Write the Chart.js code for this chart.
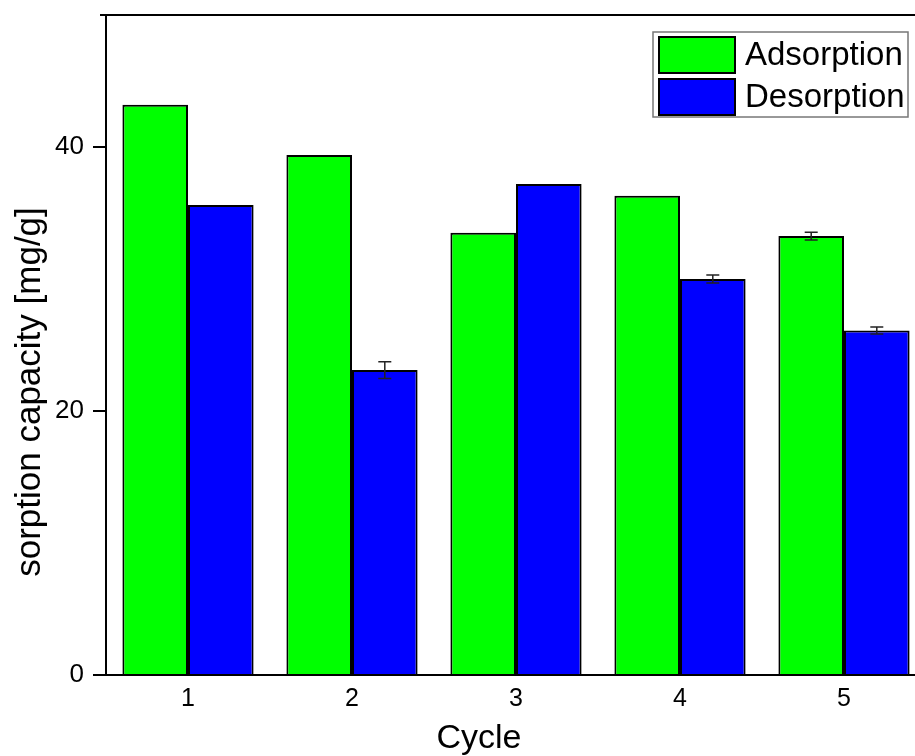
<!DOCTYPE html>
<html><head><meta charset="utf-8">
<script src="https://cdn.jsdelivr.net/npm/chart.js@4/dist/chart.umd.min.js"></script>
<style>
html,body{margin:0;padding:0;background:#fff;overflow:hidden;}
#wrap{width:915px;height:756px;overflow:hidden;position:relative;background:#fff;}
#box{width:935px;height:756px;position:absolute;left:0;top:0;}
</style></head><body>
<div id="wrap"><div id="box"><canvas id="c"></canvas></div></div>
<script>
const cycles = ['1', '2', '3', '4', '5'];
const adsorption = [43.2, 39.4, 33.5, 36.3, 33.25];
const desorption = [35.6, 23.1, 37.2, 30.0, 26.1];
const adsorptionErr = [0, 0, 0, 0, 0.3];
const desorptionErr = [0, 0.63, 0, 0.3, 0.27];
const yTicks = [0, 20, 40];
const seriesNames = ['Adsorption', 'Desorption'];
const yTitle = 'sorption capacity [mg/g]';
const xTitle = 'Cycle';

const FONT = '"Liberation Sans", Arial, sans-serif';
const errs = [adsorptionErr, desorptionErr];

const extras = {
  id: 'extras',
  afterDatasetsDraw(chart) {
    const ctx = chart.ctx;
    const y = chart.scales.y;
    ctx.save();
    ctx.strokeStyle = '#222';
    ctx.lineWidth = 1.5;
    chart.data.datasets.forEach((ds, di) => {
      const meta = chart.getDatasetMeta(di);
      meta.data.forEach((bar, i) => {
        const e = errs[di][i];
        if (!e) return;
        const v = ds.data[i];
        const yt = y.getPixelForValue(v + e);
        const yb = y.getPixelForValue(v - e);
        ctx.beginPath();
        ctx.moveTo(bar.x, yt); ctx.lineTo(bar.x, yb);
        ctx.moveTo(bar.x - 6.5, yt); ctx.lineTo(bar.x + 6.5, yt);
        ctx.moveTo(bar.x - 6.5, yb); ctx.lineTo(bar.x + 6.5, yb);
        ctx.stroke();
      });
    });
    ctx.restore();
  },
  afterDraw(chart) {
    const ctx = chart.ctx;
    const a = chart.chartArea;
    ctx.save();
    // top frame line
    ctx.strokeStyle = '#000';
    ctx.lineWidth = 2;
    ctx.beginPath();
    ctx.moveTo(a.left - 6, a.top);
    ctx.lineTo(a.right, a.top);
    ctx.stroke();
    // legend
    const lx = a.right - 273, ly = a.top + 17, lw = 255, lh = 85;
    ctx.fillStyle = '#fff';
    ctx.fillRect(lx, ly, lw, lh);
    ctx.strokeStyle = '#777';
    ctx.lineWidth = 1.5;
    ctx.strokeRect(lx, ly, lw, lh);
    chart.data.datasets.forEach((ds, i) => {
      const sy = ly + 5 + i * 42;
      ctx.fillStyle = ds.backgroundColor;
      ctx.fillRect(lx + 6, sy, 76, 36);
      ctx.strokeStyle = '#000';
      ctx.lineWidth = 2;
      ctx.strokeRect(lx + 6, sy, 76, 36);
      ctx.fillStyle = '#000';
      ctx.font = '33px ' + FONT;
      ctx.textAlign = 'left';
      ctx.textBaseline = 'middle';
      ctx.fillText(ds.label, lx + 92, sy + 19);
    });
    // axis titles
    ctx.fillStyle = '#000';
    ctx.font = '34px ' + FONT;
    ctx.textAlign = 'center';
    ctx.textBaseline = 'alphabetic';
    ctx.fillText(xTitle, 479, 748);
    ctx.font = '35px ' + FONT;
    ctx.translate(40, 392);
    ctx.rotate(-Math.PI / 2);
    ctx.fillText(yTitle, 0, 0);
    ctx.restore();
  }
};

new Chart(document.getElementById('c'), {
  type: 'bar',
  data: {
    labels: cycles,
    datasets: [
      { label: seriesNames[0], data: adsorption, backgroundColor: '#00FF00', borderColor: '#000', borderWidth: 2, categoryPercentage: 0.8, barPercentage: 1.0 },
      { label: seriesNames[1], data: desorption, backgroundColor: '#0000FF', borderColor: '#000', borderWidth: 2, categoryPercentage: 0.8, barPercentage: 1.0 }
    ]
  },
  options: {
    responsive: true,
    maintainAspectRatio: false,
    animation: false,
    devicePixelRatio: 1,
    layout: { padding: { left: 0, top: 15, right: 9, bottom: 0 } },
    plugins: { legend: { display: false }, tooltip: { enabled: false } },
    scales: {
      x: {
        type: 'category',
        offset: true,
        grid: { display: false, drawTicks: false },
        border: { display: true, color: '#000', width: 2 },
        ticks: { color: '#000', font: { family: FONT, size: 25 }, padding: 9 },
        afterFit: s => { s.height = 81; s.paddingLeft = 0; s.paddingRight = 0; }
      },
      y: {
        min: 0, max: 50,
        afterBuildTicks: s => { s.ticks = yTicks.map(v => ({ value: v })); },
        grid: { drawOnChartArea: false, drawTicks: true, tickLength: 13, color: '#000', lineWidth: 2 },
        border: { display: true, color: '#000', width: 2 },
        ticks: { color: '#000', font: { family: FONT, size: 26 }, padding: 9 },
        afterFit: s => { s.width = 106; s.paddingTop = 0; s.paddingBottom = 0; }
      }
    }
  },
  plugins: [extras]
});
</script>
</body></html>
